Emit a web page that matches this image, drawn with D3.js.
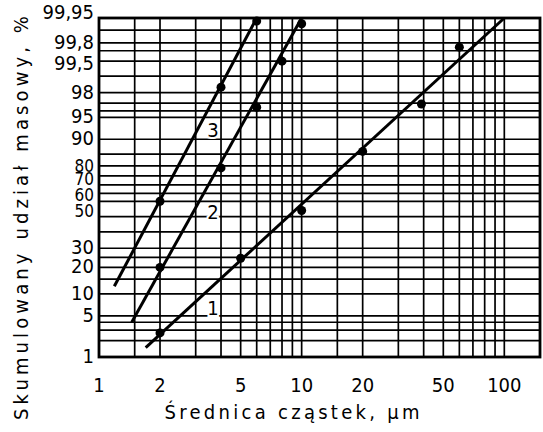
<!DOCTYPE html>
<html>
<head>
<meta charset="utf-8">
<script src="https://cdn.jsdelivr.net/npm/d3@7"></script>
<style>
  body { margin: 0; background: #fff; }
  text { font-family: "DejaVu Sans Condensed", "DejaVu Sans", sans-serif; fill: #000; }
</style>
</head>
<body>
<div id="chart"></div>
<script>
// tick labels and grid lines
var xTicks = [1, 2, 5, 10, 20, 50, 100];
var xGrid = [1.5, 2, 3, 4, 5, 6, 7, 8, 9, 10, 15, 20, 30, 40, 50, 60, 70, 80, 90, 100];
var yTicks = [1, 5, 10, 20, 30, 50, 60, 70, 80, 90, 95, 98, 99.5, 99.8, 99.95];
var yGrid = [2, 3, 4, 5, 10, 15, 20, 25, 30, 40, 50, 60, 65, 70, 75, 80, 85, 90, 95, 96, 97, 98, 99, 99.5, 99.7, 99.8, 99.9];

// fitted lines (start, end) and measured points
var line1 = [[1.7, 1.5], [100, 99.95]];
var line2 = [[1.45, 4], [10, 99.95]];
var line3 = [[1.19, 12.4], [6, 99.95]];
var points1 = [[2, 2.7], [5, 24.5], [10, 54], [20, 86], [39, 96.9], [60, 99.75]];
var points2 = [[2, 20], [4, 79], [6, 96.5], [8, 99.5], [10, 99.93]];
var points3 = [[2, 60], [4, 98.4], [6, 99.94]];
// curve number, diameter, percent
var curveLabels = [["1", 3.65, 6.5], ["2", 3.65, 53], ["3", 3.65, 92.4]];

var width = 543, height = 432;
var margin = {top: 18, right: 3, bottom: 75, left: 99};

var svg = d3.select("#chart").append("svg")
  .attr("width", width)
  .attr("height", height);

// inverse normal CDF (Acklam)
function probit(p) {
  var a = [-3.969683028665376e+01, 2.209460984245205e+02, -2.759285104469687e+02, 1.383577518672690e+02, -3.066479806614716e+01, 2.506628277459239e+00];
  var b = [-5.447609879822406e+01, 1.615858368580409e+02, -1.556989798598866e+02, 6.680131188771972e+01, -1.328068155288572e+01];
  var c = [-7.784894002430293e-03, -3.223964580411365e-01, -2.400758277161838e+00, -2.549732539343734e+00, 4.374664141464968e+00, 2.938163982698783e+00];
  var d = [7.784695709041462e-03, 3.224671290700398e-01, 2.445134137142996e+00, 3.754408661907416e+00];
  var pl = 0.02425, q, r;
  if (p < pl) {
    q = Math.sqrt(-2 * Math.log(p));
    return (((((c[0]*q+c[1])*q+c[2])*q+c[3])*q+c[4])*q+c[5]) / ((((d[0]*q+d[1])*q+d[2])*q+d[3])*q+1);
  } else if (p <= 1 - pl) {
    q = p - 0.5; r = q * q;
    return (((((a[0]*r+a[1])*r+a[2])*r+a[3])*r+a[4])*r+a[5])*q / (((((b[0]*r+b[1])*r+b[2])*r+b[3])*r+b[4])*r+1);
  } else {
    q = Math.sqrt(-2 * Math.log(1 - p));
    return -(((((c[0]*q+c[1])*q+c[2])*q+c[3])*q+c[4])*q+c[5]) / ((((d[0]*q+d[1])*q+d[2])*q+d[3])*q+1);
  }
}

var x = d3.scaleLog()
  .domain([1, 150])
  .range([margin.left, width - margin.right]);

var yz = d3.scaleLinear()
  .domain([probit(0.01), probit(0.9995)])
  .range([height - margin.bottom, margin.top]);
var y = function(p) { return yz(probit(p / 100)); };

var x0 = x.range()[0], x1 = x.range()[1];
var yBottom = yz.range()[0], yTop = yz.range()[1];

// grid
var grid = svg.append("g").attr("stroke", "#000").attr("stroke-width", 1.7);
grid.selectAll(".vg").data(xGrid).enter().append("line")
  .attr("x1", d => x(d)).attr("x2", d => x(d))
  .attr("y1", yTop).attr("y2", yBottom);
grid.selectAll(".hg").data(yGrid).enter().append("line")
  .attr("x1", x0).attr("x2", x1)
  .attr("y1", d => y(d)).attr("y2", d => y(d));

// frame
svg.append("rect")
  .attr("x", x0).attr("y", yTop)
  .attr("width", x1 - x0).attr("height", yBottom - yTop)
  .attr("fill", "none").attr("stroke", "#000").attr("stroke-width", 2.8);

// x tick labels
svg.append("g").selectAll("text").data(xTicks).enter().append("text")
  .attr("x", d => x(d))
  .attr("y", 392)
  .attr("text-anchor", "middle")
  .style("font-size", "20px")
  .text(d => d);

// y tick labels (hand-placed offsets like the original lettering)
function labelShift(d) {
  if (d === 99.95) return 1;
  if (d === 99.5) return 9;
  if (d >= 50 && d <= 70) return 0;
  return 6;
}
svg.append("g").selectAll("text").data(yTicks).enter().append("text")
  .attr("x", 94)
  .attr("y", d => y(d) + labelShift(d))
  .attr("text-anchor", "end")
  .style("font-size", d => (d >= 50 && d <= 80 ? "17px" : "20px"))
  .text(d => String(d).replace(".", ","));

// titles
svg.append("text")
  .attr("x", 292).attr("y", 419)
  .attr("text-anchor", "middle")
  .attr("textLength", 255).attr("lengthAdjust", "spacing")
  .style("font-size", "20px")
  .text("Średnica cząstek, µm");

svg.append("text")
  .attr("transform", "translate(28,218) rotate(-90)")
  .attr("text-anchor", "middle")
  .attr("textLength", 404).attr("lengthAdjust", "spacing")
  .style("font-size", "20px")
  .text("Skumulowany udział masowy, %");

// lines and points
var lineGen = d3.line().x(d => x(d[0])).y(d => y(d[1]));
[line1, line2, line3].forEach(function(l) {
  svg.append("path")
    .datum(l)
    .attr("d", lineGen)
    .attr("fill", "none")
    .attr("stroke", "#000")
    .attr("stroke-width", 3);
});
[points1, points2, points3].forEach(function(pts) {
  svg.append("g").selectAll("circle").data(pts).enter().append("circle")
    .attr("cx", d => x(d[0]))
    .attr("cy", d => y(d[1]))
    .attr("r", 4.5)
    .attr("fill", "#000");
});

// curve numbers
curveLabels.forEach(function(c) {
  svg.append("text")
    .attr("x", x(c[1]))
    .attr("y", y(c[2]) + 7)
    .attr("text-anchor", "middle")
    .attr("stroke", "#fff").attr("stroke-width", 4).attr("paint-order", "stroke")
    .style("font-size", "20px")
    .text(c[0]);
});
</script>
</body>
</html>
